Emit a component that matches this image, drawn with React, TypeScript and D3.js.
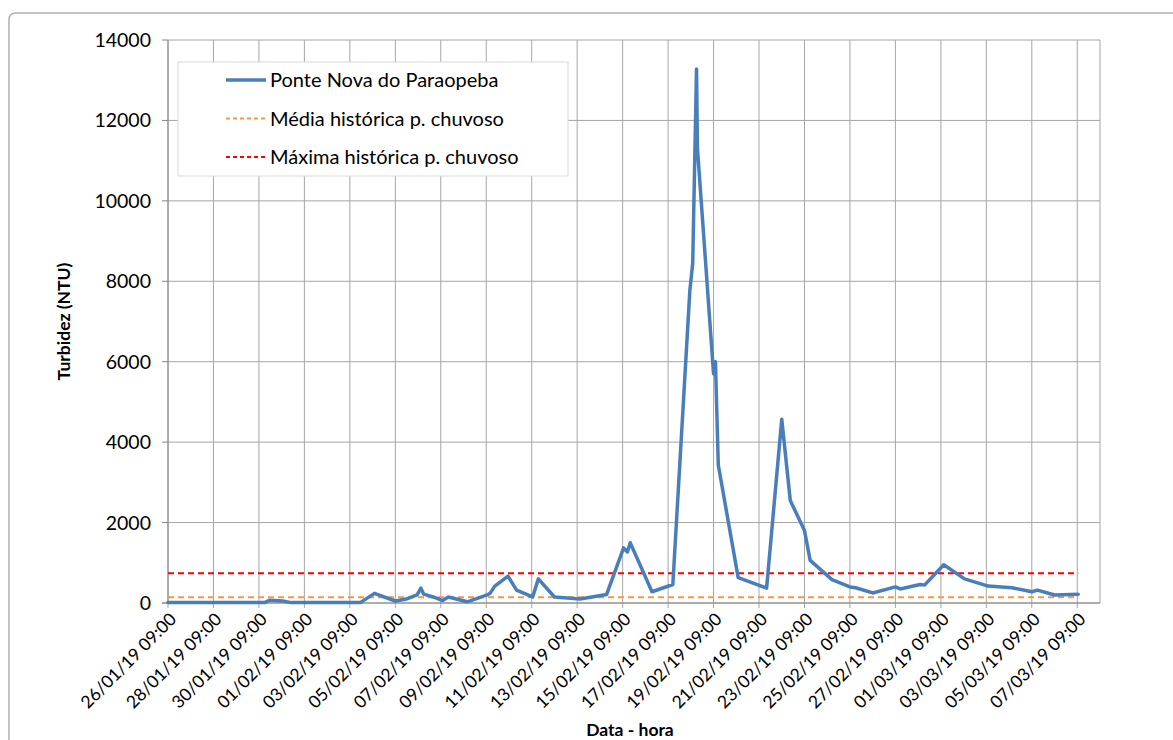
import React from 'react';
import * as d3 from 'd3';

const times: string[] = [
  '26/01/19 09:00', '30/01/19 15:00', '30/01/19 20:00', '31/01/19 10:00', '31/01/19 19:00',
  '03/02/19 20:00', '04/02/19 11:00', '05/02/19 09:00', '05/02/19 21:00', '06/02/19 08:00',
  '06/02/19 12:00', '06/02/19 15:00', '07/02/19 01:00', '07/02/19 11:00', '07/02/19 17:00',
  '08/02/19 13:00', '09/02/19 10:00', '09/02/19 13:00', '09/02/19 18:00', '10/02/19 08:00',
  '10/02/19 17:00', '11/02/19 10:00', '11/02/19 16:00', '12/02/19 09:00', '13/02/19 12:00',
  '14/02/19 16:00', '15/02/19 10:00', '15/02/19 14:00', '15/02/19 17:00', '16/02/19 16:00',
  '17/02/19 14:00', '18/02/19 08:00', '18/02/19 11:00', '18/02/19 15:00', '18/02/19 16:00',
  '19/02/19 09:00', '19/02/19 11:00', '19/02/19 14:00', '20/02/19 11:00', '21/02/19 17:00',
  '22/02/19 09:00', '22/02/19 18:00', '23/02/19 09:00', '23/02/19 15:00', '24/02/19 14:00',
  '25/02/19 09:00', '25/02/19 15:00', '26/02/19 09:00', '27/02/19 09:00', '27/02/19 14:00',
  '28/02/19 11:00', '28/02/19 16:00', '01/03/19 12:00', '02/03/19 10:00', '03/03/19 11:00',
  '04/03/19 12:00', '05/03/19 09:00', '05/03/19 15:00', '06/03/19 09:00', '07/03/19 10:00',
];

const turbidez: number[] = [
  10, 10, 70, 50, 10,
  10, 240, 50, 100, 200,
  370, 220, 150, 60, 150,
  30, 200, 240, 420, 670,
  320, 150, 600, 150, 100,
  210, 1370, 1270, 1500, 280,
  460, 7780, 8450, 13280, 11300,
  5700, 6000, 3430, 630, 370,
  4570, 2550, 1800, 1060, 580,
  400, 380, 250, 400, 350,
  460, 450, 950, 600, 420,
  380, 280, 320, 200, 220,
];

const mediaHistorica = 145;
const maximaHistorica = 740;

const yTicks: number[] = [0, 2000, 4000, 6000, 8000, 10000, 12000, 14000];
const seriesNames: string[] = [
  'Ponte Nova do Paraopeba',
  'Média histórica p. chuvoso',
  'Máxima histórica p. chuvoso',
];
const axisStart = '26/01/19 09:00';
const axisEnd = '08/03/19 09:00';
const tickStepDays = 2;
const yTitle = 'Turbidez (NTU)';
const xTitle = 'Data - hora';

const FONT = 'Lato, "Open Sans", sans-serif';

export default function App() {
  const parse = d3.utcParse('%d/%m/%y %H:%M');
  const fmt = d3.utcFormat('%d/%m/%y %H:%M');
  const start = parse(axisStart) as Date;
  const end = parse(axisEnd) as Date;
  const dates = times.map((t) => parse(t) as Date);

  const left = 168, right = 1100, top = 40, bottom = 603;
  const x = d3.scaleUtc().domain([start, end]).range([left, right]);
  const y = d3.scaleLinear().domain([0, 14000]).range([bottom, top]);

  const nTicks = Math.floor(d3.utcDay.count(start, end) / tickStepDays);
  const xTicks = d3.range(0, nTicks + 1).map((i) => d3.utcDay.offset(start, i * tickStepDays));

  const line = d3
    .line<number>()
    .x((_, i) => x(dates[i]))
    .y((v) => y(v));

  const x0 = x(dates[0]);
  const x1 = x(dates[dates.length - 1]);
  const grid = '#a6a6a6';

  return (
    <svg width={1173} height={740} style={{ position: 'absolute', left: 0, top: 0, background: '#fff' }}>
      {/* chart frame */}
      <path d="M9,760 L9,20 Q9,13 16,13 L1180,13" fill="none" stroke="#b0b0b0" strokeWidth={1.5} />

      {/* horizontal gridlines */}
      {yTicks.map((t) => (
        <line key={'h' + t} x1={left} x2={right} y1={y(t)} y2={y(t)} stroke={grid} strokeWidth={1} />
      ))}
      {/* vertical gridlines */}
      {xTicks.map((t, i) => (
        <line key={'v' + i} x1={x(t)} x2={x(t)} y1={top} y2={bottom + 5} stroke={grid} strokeWidth={1} />
      ))}
      <line x1={right} x2={right} y1={top} y2={bottom} stroke={grid} strokeWidth={1} />

      {/* axes */}
      <line x1={left} x2={left} y1={top} y2={bottom} stroke="#868686" strokeWidth={1} />
      <line x1={left - 6} x2={right} y1={bottom} y2={bottom} stroke="#868686" strokeWidth={1} />
      {yTicks.map((t) => (
        <g key={'yt' + t}>
          <line x1={left - 6} x2={left} y1={y(t)} y2={y(t)} stroke="#868686" />
          <text x={left - 17} y={y(t)} dy="0.36em" textAnchor="end" fontFamily={FONT} fontSize={19.5} fill="#000">
            {t}
          </text>
        </g>
      ))}
      {xTicks.map((t, i) => (
        <text
          key={'xt' + i}
          transform={`translate(${x(t) + 5},${bottom + 13}) rotate(-45)`}
          textAnchor="end"
          dy="0.35em"
          fontFamily={FONT}
          fontSize={17.5}
          fill="#000"
        >
          {fmt(t)}
        </text>
      ))}

      {/* reference lines */}
      <line x1={x0} x2={x1} y1={y(mediaHistorica)} y2={y(mediaHistorica)} stroke="#f79646" strokeWidth={2} strokeDasharray="6,4" />
      <line x1={x0} x2={x1} y1={y(maximaHistorica)} y2={y(maximaHistorica)} stroke="#ff0000" strokeWidth={2} strokeDasharray="6,4" />

      {/* series */}
      <path d={line(turbidez) || ''} fill="none" stroke="#4a7ebb" strokeWidth={3.5} strokeLinejoin="round" strokeLinecap="round" />

      {/* axis titles */}
      <text transform={`translate(70,${(top + bottom) / 2}) rotate(-90)`} textAnchor="middle" fontFamily={FONT} fontWeight="bold" fontSize={17.5} fill="#000">
        {yTitle}
      </text>
      <text x={630} y={736} textAnchor="middle" fontFamily={FONT} fontWeight="bold" fontSize={17.5} fill="#000">
        {xTitle}
      </text>

      {/* legend */}
      <rect x={178} y={62} width={390} height={114} fill="#fff" stroke="#d9d9d9" strokeWidth={1} />
      {seriesNames.map((name, i) => {
        const ly = 80 + i * 38.5;
        const styles = [
          { stroke: '#4a7ebb', w: 3.5, dash: undefined },
          { stroke: '#f79646', w: 2, dash: '4,3' },
          { stroke: '#ff0000', w: 2, dash: '4,3' },
        ][i];
        return (
          <g key={name}>
            <line x1={226} x2={266} y1={ly} y2={ly} stroke={styles.stroke} strokeWidth={styles.w} strokeDasharray={styles.dash} />
            <text x={270} y={ly} dy="0.36em" fontFamily={FONT} fontSize={20} fill="#000">
              {name}
            </text>
          </g>
        );
      })}
    </svg>
  );
}
